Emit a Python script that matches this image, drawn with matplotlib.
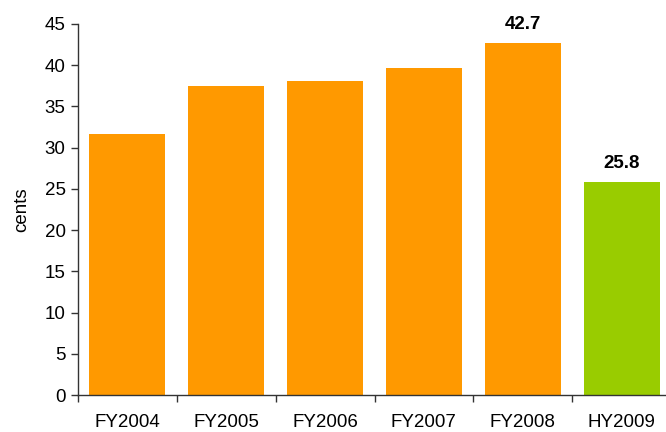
import matplotlib
matplotlib.use("Agg")
import matplotlib.pyplot as plt

categories = ["FY2004", "FY2005", "FY2006", "FY2007", "FY2008", "HY2009"]
values = [31.7, 37.5, 38.1, 39.7, 42.7, 25.8]
colors = ["#FF9900", "#FF9900", "#FF9900", "#FF9900", "#FF9900", "#99CC00"]
labelled = {4: "42.7", 5: "25.8"}
yticks = [0, 5, 10, 15, 20, 25, 30, 35, 40, 45]

plt.rcParams['font.family'] = ['Liberation Sans', 'DejaVu Sans']

fig = plt.figure(figsize=(6.66, 4.32), dpi=100)
W, H = 666, 432
ax = fig.add_axes([78 / W, (H - 395) / H, (671 - 78) / W, (395 - 24) / H])

x = list(range(len(categories)))
ax.bar(x, values, width=0.77, color=colors, zorder=2)
for i, txt in labelled.items():
    ax.text(i, values[i] + 1.25, txt, ha="center", va="bottom",
            fontsize=13.5, fontweight="bold", color="black")

ax.set_xlim(-0.5, len(categories) - 0.5)
ax.set_ylim(0, 45)
ax.set_yticks(yticks)
ax.set_yticklabels([str(t) for t in yticks], fontsize=13.5)
ax.set_xticks(x)
ax.set_xticklabels(categories, fontsize=13.5)
ax.tick_params(axis="x", length=0, pad=14)
ax.set_xticks([i - 0.5 for i in range(len(categories) + 1)], minor=True)
ax.tick_params(axis="x", which="minor", length=5, width=1, color="#333333", direction="out")
ax.tick_params(axis="y", length=5, width=1, color="#333333", direction="out", pad=4)

for s in ["top", "right"]:
    ax.spines[s].set_visible(False)
for s in ["left", "bottom"]:
    ax.spines[s].set_color("#333333")
    ax.spines[s].set_linewidth(1)

ax.set_ylabel("cents", fontsize=13.5, labelpad=10)

fig.savefig("out.png", dpi=100)
